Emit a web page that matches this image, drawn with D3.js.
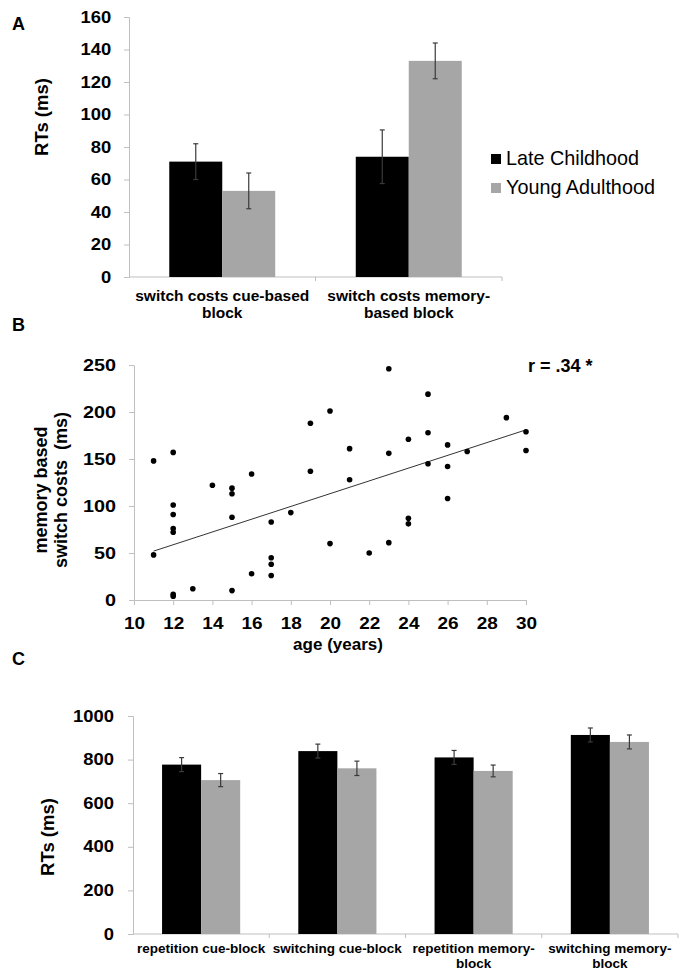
<!DOCTYPE html>
<html>
<head>
<meta charset="utf-8">
<script src="https://cdn.jsdelivr.net/npm/d3@7"></script>
<style>
  body { margin: 0; background: #fff; }
  text { font-family: "Liberation Sans", Arial, sans-serif; }
</style>
</head>
<body>
<svg id="fig" width="685" height="976"></svg>
<script>
// ---- data ----
const groups = ["Late Childhood", "Young Adulthood"];
const groupColors = ["#000000", "#a6a6a6"];

// panel A: switch costs
const catsA = ["switch costs cue-based\nblock", "switch costs memory-\nbased block"];
const childA = [71, 74];
const childAErr = [11, 16.5];
const adultA = [53, 133];
const adultAErr = [11, 11];
const ticksA = [0, 20, 40, 60, 80, 100, 120, 140, 160];

// panel B: age vs memory based switch costs
const ages = [11, 11, 12, 12, 12, 12, 12, 12, 12, 13, 14, 15, 15, 15, 15, 16, 16, 17, 17, 17, 17, 18, 19, 19, 20, 20,
              21, 21, 22, 23, 23, 23, 24, 24, 24, 25, 25, 25, 26, 26, 26, 27, 29, 30, 30];
const costs = [148, 48, 157, 101, 91, 76, 72, 6, 4, 12, 122, 119, 113, 88, 10, 134, 28, 83, 45, 38, 26, 93, 188, 137, 201, 60,
               161, 128, 50, 246, 156, 61, 171, 87, 81, 219, 178, 145, 165, 142, 108, 158, 194, 179, 159];
const trendAge = [11, 30];
const trendCost = [52, 181];
const ticksBx = [10, 12, 14, 16, 18, 20, 22, 24, 26, 28, 30];
const ticksBy = [0, 50, 100, 150, 200, 250];

// panel C: RTs per condition
const catsC = ["repetition cue-block", "switching cue-block", "repetition memory-\nblock", "switching memory-\nblock"];
const childC = [777, 839, 810, 913];
const childCErr = [32, 32, 32, 32];
const adultC = [706, 760, 748, 881];
const adultCErr = [30, 33, 27, 32];
const ticksC = [0, 200, 400, 600, 800, 1000];

const svg = d3.select("#fig");
const axisGray = "#bfbfbf";

// tick labels in the figure look a little wide, so stretch them sideways
function styleAxis(sel, size, stretch) {
  sel.select(".domain").attr("stroke", axisGray);
  sel.selectAll(".tick line").attr("stroke", axisGray);
  sel.selectAll(".tick text").attr("font-size", size).attr("font-weight", "bold")
    .attr("font-family", "Liberation Sans, Arial, sans-serif").attr("fill", "#000")
    .attr("transform", `scale(${stretch},1)`);
}

// panel letters
[["A", 12, 30], ["B", 12, 331], ["C", 12, 665]].forEach(([t, x, y]) => {
  svg.append("text").attr("x", x).attr("y", y).text(t)
    .attr("font-size", 18).attr("font-weight", "bold");
});

// grouped bar chart with error bars
function barPanel(cfg) {
  const g = svg.append("g");
  const x = d3.scaleBand().domain(cfg.cats).range([cfg.x0, cfg.x1]);
  const xs = d3.scaleBand().domain(groups).range([0, x.bandwidth()]).paddingOuter(cfg.outer);
  const y = d3.scaleLinear().domain([0, cfg.ymax]).range([cfg.y0, cfg.y1]);

  // y axis
  const ya = g.append("g").attr("transform", `translate(${cfg.x0},0)`)
    .call(d3.axisLeft(y).tickValues(cfg.ticks).tickFormat(d3.format("d")).tickSize(5).tickPadding(cfg.pad));
  styleAxis(ya, 16, 1.15);

  // x axis line + boundary ticks
  g.append("line").attr("x1", cfg.x0).attr("x2", cfg.x1).attr("y1", y(0)).attr("y2", y(0))
    .attr("stroke", axisGray);
  cfg.cats.forEach((c, i) => {
    if (i === 0) return;
    g.append("line").attr("x1", x(c)).attr("x2", x(c)).attr("y1", y(0)).attr("y2", y(0) + 4)
      .attr("stroke", axisGray);
  });
  g.append("line").attr("x1", cfg.x1).attr("x2", cfg.x1).attr("y1", y(0)).attr("y2", y(0) + 4)
    .attr("stroke", axisGray);

  const series = [[cfg.child, cfg.childErr], [cfg.adult, cfg.adultErr]];
  series.forEach(([vals, errs], si) => {
    const grp = groups[si];
    g.selectAll(null).data(cfg.cats).join("rect")
      .attr("x", d => x(d) + xs(grp))
      .attr("width", xs.bandwidth())
      .attr("y", (d, i) => y(vals[i]))
      .attr("height", (d, i) => y(0) - y(vals[i]))
      .attr("fill", groupColors[si]);
    cfg.cats.forEach((c, i) => {
      const cx = x(c) + xs(grp) + xs.bandwidth() / 2;
      const top = y(vals[i] + errs[i]), bot = y(vals[i] - errs[i]);
      g.append("line").attr("x1", cx).attr("x2", cx).attr("y1", top).attr("y2", bot)
        .attr("stroke", "#3a3a3a").attr("stroke-width", 1.2);
      [top, bot].forEach(yy => g.append("line").attr("x1", cx - 2.5).attr("x2", cx + 2.5)
        .attr("y1", yy).attr("y2", yy).attr("stroke", "#3a3a3a").attr("stroke-width", 1.2));
    });
  });

  // category labels
  cfg.cats.forEach(c => {
    c.split("\n").forEach((line, li) => {
      g.append("text").attr("x", x(c) + x.bandwidth() / 2).attr("y", y(0) + cfg.labDy + li * cfg.labLine)
        .attr("text-anchor", "middle").attr("font-size", cfg.labSize).attr("font-weight", "bold").text(line);
    });
  });

  // y label
  g.append("text").attr("transform", `translate(${cfg.ylabX},${cfg.ylabY}) rotate(-90)`)
    .attr("text-anchor", "middle").attr("font-size", 18.5).attr("font-weight", "bold").text("RTs (ms)");
  return g;
}

barPanel({
  cats: catsA, child: childA, childErr: childAErr, adult: adultA, adultErr: adultAErr,
  ticks: ticksA, ymax: 160, x0: 129, x1: 502, y0: 277, y1: 17, outer: 0.76, pad: 10.5,
  labDy: 24, labLine: 17, labSize: 15.5, ylabX: 48, ylabY: 117
});

barPanel({
  cats: catsC, child: childC, childErr: childCErr, adult: adultC, adultErr: adultCErr,
  ticks: ticksC, ymax: 1000, x0: 133, x1: 678, y0: 934, y1: 716, outer: 0.744, pad: 11.5,
  labDy: 19, labLine: 15, labSize: 13.5, ylabX: 54, ylabY: 837
});

// legend (panel A)
const leg = svg.append("g").attr("transform", "translate(491,154)");
groups.forEach((gname, i) => {
  leg.append("rect").attr("x", 0).attr("y", i * 29).attr("width", 10).attr("height", 10)
    .attr("fill", groupColors[i]);
  leg.append("text").attr("x", 15).attr("y", i * 29 + 11).attr("font-size", 19.8).text(gname);
});

// ---- panel B scatter ----
const gB = svg.append("g");
const xB = d3.scaleLinear().domain([10, 30]).range([134, 526]);
const yB = d3.scaleLinear().domain([0, 250]).range([600, 365]);
const bFont = "Lato, 'Open Sans', sans-serif";

const xaB = gB.append("g").attr("transform", "translate(0,600)")
  .call(d3.axisBottom(xB).tickValues(ticksBx).tickSize(5).tickPadding(12).tickSizeOuter(0));
styleAxis(xaB, 16.5, 1.15);

const yaB = gB.append("g").attr("transform", "translate(134,0)")
  .call(d3.axisLeft(yB).tickValues(ticksBy).tickSize(5).tickPadding(10).tickSizeOuter(0));
styleAxis(yaB, 16.5, 1.2);

gB.append("line")
  .attr("x1", xB(trendAge[0])).attr("y1", yB(trendCost[0]))
  .attr("x2", xB(trendAge[1])).attr("y2", yB(trendCost[1]))
  .attr("stroke", "#333").attr("stroke-width", 1);

gB.selectAll("circle").data(ages).join("circle")
  .attr("cx", d => xB(d)).attr("cy", (d, i) => yB(costs[i])).attr("r", 2.8).attr("fill", "#000");

gB.append("text").attr("x", 528).attr("y", 372).attr("font-size", 18).attr("font-weight", "bold")
  .attr("font-family", bFont).text("r = .34 *");
gB.append("text").attr("x", 338).attr("y", 650).attr("text-anchor", "middle").attr("font-size", 17)
  .attr("font-weight", "bold").attr("font-family", bFont).text("age (years)");
gB.append("text").attr("transform", "translate(47,490) rotate(-90)").attr("text-anchor", "middle")
  .attr("font-size", 18).attr("font-weight", "bold").attr("font-family", bFont).text("memory based");
gB.append("text").attr("transform", "translate(67,490) rotate(-90)").attr("text-anchor", "middle")
  .attr("font-size", 18).attr("font-weight", "bold").attr("font-family", bFont).attr("xml:space", "preserve")
  .text("switch costs  (ms)");
</script>
</body>
</html>
